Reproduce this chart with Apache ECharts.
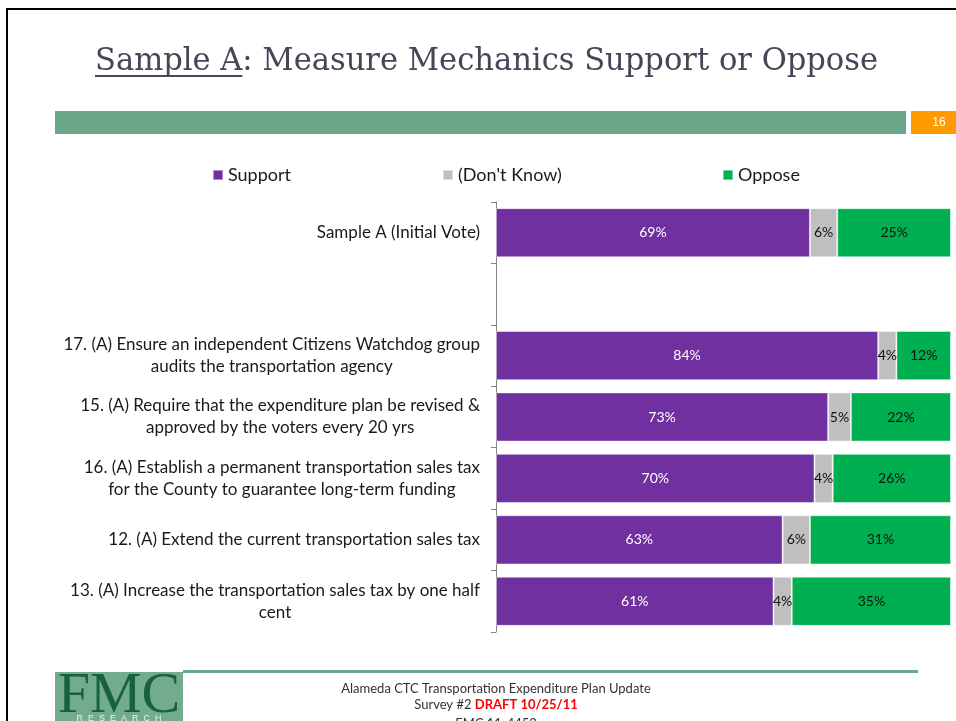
<!DOCTYPE html>
<html>
<head>
<meta charset="utf-8">
<title>Sample A: Measure Mechanics Support or Oppose</title>
<script src="https://cdn.jsdelivr.net/npm/echarts@6/dist/echarts.min.js"></script>
<style>
  html, body { margin: 0; padding: 0; background: #ffffff; }
  #chart { width: 956px; height: 721px; }
</style>
</head>
<body>
<div id="chart"></div>
<script>
// Survey items, top to bottom (the blank entry leaves a spacer row)
var categories = [
  'Sample A (Initial Vote)',
  '',
  '17. (A) Ensure an independent Citizens Watchdog group\naudits the transportation agency',
  '15. (A) Require that the expenditure plan be revised &\napproved by the voters every 20 yrs',
  '16. (A) Establish a permanent transportation sales tax\nfor the County to guarantee long-term funding',
  '12. (A) Extend the current transportation sales tax',
  '13. (A) Increase the transportation sales tax by one half\ncent'
];
var seriesNames = ['Support', "(Don't Know)", 'Oppose'];
var supportValues  = [69, null, 84, 73, 70, 63, 61];
var dontKnowValues = [6,  null, 4,  5,  4,  6,  4];
var opposeValues   = [25, null, 12, 22, 26, 31, 35];

var titleLead = 'Sample A';
var titleRest = ': Measure Mechanics Support or Oppose';
var pageNumber = '16';
var footerLine1 = 'Alameda CTC Transportation Expenditure Plan Update';
var footerLine2a = 'Survey #2 ';
var footerLine2b = 'DRAFT 10/25/11';
var footerLine3 = 'EMC 11-4453';

var purple = '#7030a0', grey = '#bfbfbf', green = '#00b050';
var slideGreen = '#6aa68a';
var uiFont = 'Lato, "Open Sans", sans-serif';

// title is set to span a fixed width; measure it so the underline
// covers only the lead words
var titleFont = '31px "DejaVu Serif", serif';
var titleSpan = 783, titleX = 95;
var mctx = document.createElement('canvas').getContext('2d');
mctx.font = titleFont;
var leadW = mctx.measureText(titleLead).width;
var fullW = mctx.measureText(titleLead + titleRest).width;
var titleScale = titleSpan / fullW;

var chart = echarts.init(document.getElementById('chart'), null, { renderer: 'canvas' });

function barSeries(name, values, color, labelColor) {
  return {
    name: name,
    type: 'bar',
    stack: 'total',
    data: values,
    barCategoryGap: '20%',
    itemStyle: { color: color, borderColor: 'rgba(255,255,255,0.45)', borderWidth: 1 },
    label: {
      show: true,
      position: 'inside',
      color: labelColor,
      fontFamily: uiFont,
      fontSize: 14,
      formatter: function (p) { return p.value == null ? '' : p.value + '%'; }
    },
    emphasis: { disabled: true }
  };
}

function legendAt(name, left) {
  return {
    data: [name],
    left: left,
    top: 166,
    icon: 'rect',
    itemWidth: 10,
    itemHeight: 10,
    itemGap: 5,
    padding: 0,
    selectedMode: false,
    textStyle: { fontFamily: uiFont, fontSize: 18, color: '#1a1a1a' }
  };
}

var option = {
  animation: false,
  backgroundColor: '#ffffff',
  legend: [
    legendAt(seriesNames[0], 212),
    legendAt(seriesNames[1], 442),
    legendAt(seriesNames[2], 722)
  ],
  grid: { left: 496, right: 5, top: 202, bottom: 89, containLabel: false },
  xAxis: {
    type: 'value',
    min: 0,
    max: 100,
    show: false
  },
  yAxis: {
    type: 'category',
    inverse: true,
    data: categories,
    axisLine: { show: true, lineStyle: { color: '#868686', width: 1 } },
    axisTick: { show: true, length: 5, lineStyle: { color: '#868686' } },
    axisLabel: {
      margin: 16,
      align: 'right',
      interval: 0,
      formatter: function (v) {
        if (!v) return '';
        return v.split('\n').map(function (s) { return '{c|' + s + '}'; }).join('\n');
      },
      rich: {
        c: { align: 'center', fontFamily: uiFont, fontSize: 17, color: '#1a1a1a', lineHeight: 22 }
      }
    }
  },
  series: [
    barSeries(seriesNames[0], supportValues, purple, '#ffffff'),
    barSeries(seriesNames[1], dontKnowValues, grey, '#111111'),
    barSeries(seriesNames[2], opposeValues, green, '#111111')
  ],
  graphic: [
    // slide frame
    { type: 'line', shape: { x1: 6, y1: 9, x2: 956, y2: 9 }, style: { stroke: '#000', lineWidth: 2 }, silent: true },
    { type: 'line', shape: { x1: 7, y1: 8, x2: 7, y2: 721 }, style: { stroke: '#000', lineWidth: 2 }, silent: true },
    // title
    {
      type: 'text', x: titleX, y: 62, scaleX: titleScale, silent: true,
      style: { text: titleLead + titleRest, font: titleFont, fill: '#464656', verticalAlign: 'middle' }
    },
    { type: 'rect', shape: { x: titleX, y: 75, width: leadW * titleScale, height: 2 }, style: { fill: '#464656' }, silent: true },
    // header band and page number
    { type: 'rect', shape: { x: 55, y: 111, width: 851, height: 23 }, style: { fill: slideGreen }, silent: true },
    { type: 'rect', shape: { x: 911, y: 111, width: 45, height: 23 }, style: { fill: '#ff9a00' }, silent: true },
    {
      type: 'text', x: 939, y: 123, silent: true,
      style: { text: pageNumber, fill: '#ffffff', font: '12px "Liberation Sans", Arial, sans-serif', align: 'center', verticalAlign: 'middle' }
    },
    // footer rule
    { type: 'rect', shape: { x: 183, y: 670, width: 735, height: 3 }, style: { fill: slideGreen }, silent: true },
    // logo block
    { type: 'rect', shape: { x: 55, y: 672, width: 128, height: 49 }, style: { fill: '#73ab91' }, silent: true },
    {
      type: 'text', x: 119, y: 697, silent: true,
      style: { text: 'FMC', font: '58px "Liberation Serif", serif', fill: '#17613f', align: 'center', verticalAlign: 'middle' }
    },
    {
      type: 'text', x: 119, y: 719, silent: true,
      style: { text: 'R  E  S  E  A  R  C  H', font: '9px "Liberation Sans", sans-serif', fill: '#e8f2ec', align: 'center', verticalAlign: 'middle' }
    },
    // footer text
    {
      type: 'text', x: 496, y: 689, silent: true,
      style: { text: footerLine1, font: '13px ' + uiFont, fill: '#333333', align: 'center', verticalAlign: 'middle' }
    },
    {
      type: 'text', x: 496, y: 705, silent: true,
      style: {
        text: '{a|' + footerLine2a + '}{b|' + footerLine2b + '}',
        align: 'center', verticalAlign: 'middle',
        rich: {
          a: { fontFamily: uiFont, fontSize: 13, fill: '#333333' },
          b: { fontFamily: uiFont, fontSize: 13, fontWeight: 'bold', fill: '#ff0000' }
        }
      }
    },
    {
      type: 'text', x: 496, y: 724, silent: true,
      style: { text: footerLine3, font: '13px ' + uiFont, fill: '#333333', align: 'center', verticalAlign: 'middle' }
    }
  ]
};

chart.setOption(option);
</script>
</body>
</html>
